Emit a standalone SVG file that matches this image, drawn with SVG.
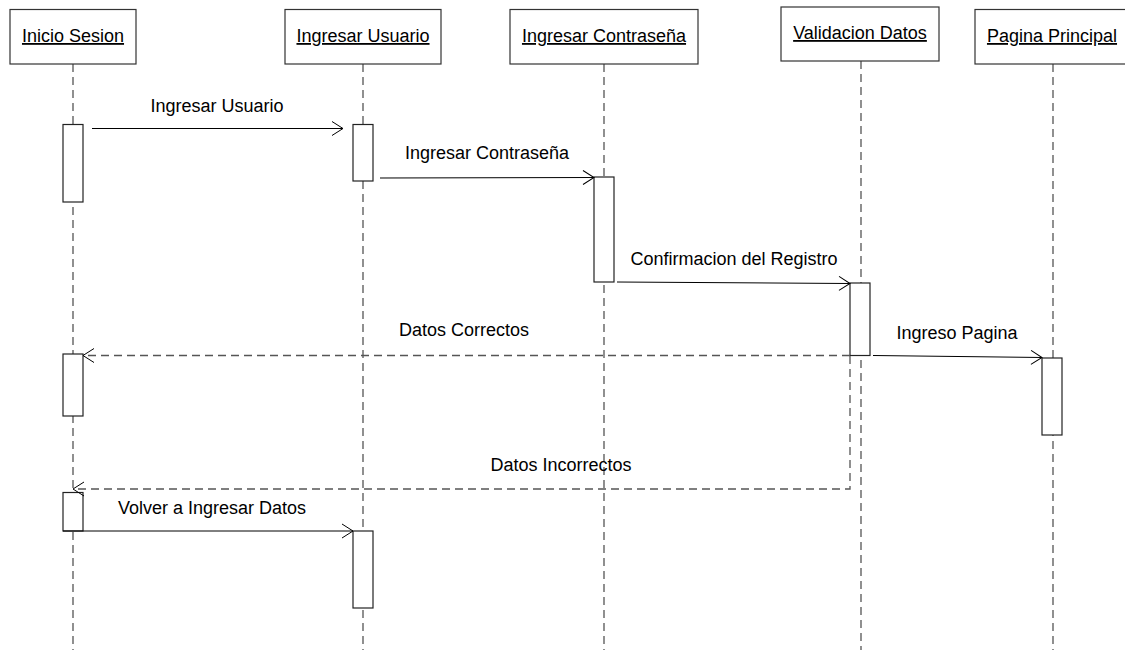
<svg xmlns="http://www.w3.org/2000/svg" width="1125" height="650" viewBox="0 0 1125 650">
<defs>
<marker id="open" markerWidth="14" markerHeight="16" refX="12" refY="8" orient="auto" markerUnits="userSpaceOnUse">
<path d="M1,1 L12,8 L1,15" fill="none" stroke="#000" stroke-width="1"/>
</marker>
</defs>
<style>
.box{fill:#fff;stroke:#333;stroke-width:1.2}
.act{fill:#fff;stroke:#222;stroke-width:1.2}
.life{stroke:#555;stroke-width:1.3;stroke-dasharray:8,5;fill:none}
.msg{stroke:#000;stroke-width:1;fill:none}
.ret{stroke:#555;stroke-width:1.3;stroke-dasharray:8,5;fill:none}
.t{font-family:"Liberation Sans",Arial,sans-serif;font-size:18px;fill:#000}
.u{text-decoration:underline}
</style>
<rect width="1125" height="650" fill="#fff"/>
<g id="lifelines">
<line class="life" x1="73" y1="64" x2="73" y2="650"/>
<line class="life" x1="363" y1="64" x2="363" y2="650"/>
<line class="life" x1="604" y1="64" x2="604" y2="650"/>
<line class="life" x1="861" y1="61" x2="861" y2="650"/>
<line class="life" x1="1053" y1="64" x2="1053" y2="650"/>
</g>
<g id="node-inicio-sesion">
<rect class="box" x="10" y="9.5" width="126" height="54.5"/>
<text class="t u" x="73" y="42" text-anchor="middle">Inicio Sesion</text>
</g>
<g id="node-ingresar-usuario">
<rect class="box" x="285" y="9.5" width="156" height="54.5"/>
<text class="t u" x="363" y="42" text-anchor="middle">Ingresar Usuario</text>
</g>
<g id="node-ingresar-contrasena">
<rect class="box" x="510" y="9.5" width="188" height="54.5"/>
<text class="t u" x="604" y="42" text-anchor="middle">Ingresar Contraseña</text>
</g>
<g id="node-validacion-datos">
<rect class="box" x="781" y="7" width="158" height="54"/>
<text class="t u" x="860" y="39" text-anchor="middle">Validacion Datos</text>
</g>
<g id="node-pagina-principal">
<rect class="box" x="975" y="9.5" width="155" height="54.5"/>
<text class="t u" x="1052" y="42" text-anchor="middle">Pagina Principal</text>
</g>
<g id="activations">
<rect class="act" x="63" y="124.5" width="20" height="77.5"/>
<rect class="act" x="353" y="124.5" width="20" height="56.5"/>
<rect class="act" x="594" y="177" width="20" height="105"/>
<rect class="act" x="850" y="283" width="20" height="72.5"/>
<rect class="act" x="1042" y="358" width="20" height="77"/>
<rect class="act" x="63" y="354" width="20" height="62"/>
<rect class="act" x="63" y="492.5" width="20" height="38.5"/>
<rect class="act" x="353" y="531" width="20" height="77"/>
</g>
<g id="connectors">
<line class="msg" x1="92" y1="128.5" x2="343" y2="128.5" marker-end="url(#open)"/>
<line class="msg" x1="380" y1="178" x2="594" y2="177.5" marker-end="url(#open)"/>
<line class="msg" x1="617" y1="282" x2="850" y2="283.5" marker-end="url(#open)"/>
<line class="ret" x1="850" y1="355.5" x2="83" y2="355.5" marker-end="url(#open)"/>
<line class="msg" x1="873" y1="355.5" x2="1042" y2="357.5" marker-end="url(#open)"/>
<path class="ret" d="M850,356 L850,489 L73,489" marker-end="url(#open)"/>
<line class="msg" x1="63" y1="531" x2="353" y2="531" marker-end="url(#open)"/>
</g>
<g id="labels">
<text class="t" x="217" y="112" text-anchor="middle">Ingresar Usuario</text>
<text class="t" x="487" y="159" text-anchor="middle">Ingresar Contraseña</text>
<text class="t" x="734" y="265" text-anchor="middle">Confirmacion del Registro</text>
<text class="t" x="464" y="336" text-anchor="middle">Datos Correctos</text>
<text class="t" x="957" y="339" text-anchor="middle">Ingreso Pagina</text>
<text class="t" x="561" y="471" text-anchor="middle">Datos Incorrectos</text>
<text class="t" x="212" y="514" text-anchor="middle">Volver a Ingresar Datos</text>
</g>
</svg>
